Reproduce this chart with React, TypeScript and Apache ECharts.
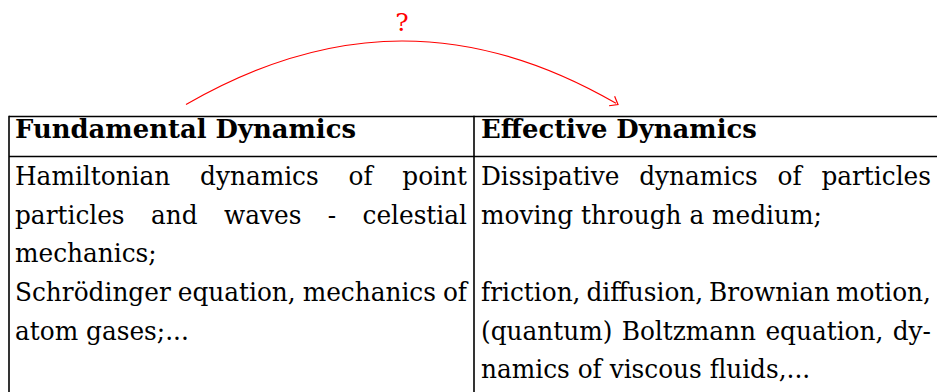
import React, { useEffect, useRef } from "react";
import * as echarts from "echarts";

// ---- content ----
const headers = ["Fundamental Dynamics", "Effective Dynamics"];
const leftLines = [
  "Hamiltonian dynamics of point",
  "particles and waves - celestial",
  "mechanics;",
  "Schrödinger equation, mechanics of",
  "atom gases;...",
];
const leftJustify = [true, true, false, true, false];
const rightLines = [
  "Dissipative dynamics of particles",
  "moving through a medium;",
  "",
  "friction, diffusion, Brownian motion,",
  "(quantum) Boltzmann equation, dy-",
  "namics of viscous fluids,...",
];
const rightJustify = [true, false, false, true, true, false];
const arrowLabel = "?";

// ---- layout ----
const W = 937;
const H = 392;
const FAMILY = "DejaVu Serif";
const FS = 26;
const TABLE_LEFT = 9;
const TABLE_MID = 474;
const TABLE_TOP = 116.5;
const HEADER_BOTTOM = 156.5;
const COL_X = [15, 481];
const COL_END = [467, 931];
const HEADER_BASE = 138;
const FIRST_BASE = 185;
const LINE_STEP = 38.6;
const BASE_RATIO = 0.346;

let ctx: CanvasRenderingContext2D | null = null;
function measure(text: string, bold = false): number {
  if (!ctx) ctx = document.createElement("canvas").getContext("2d");
  ctx!.font = `${bold ? "bold " : ""}${FS}px "${FAMILY}"`;
  return ctx!.measureText(text).width;
}

function textEl(text: string, x: number, baseline: number, sx: number, bold = false, color = "#000", size = FS, align = "left") {
  return {
    type: "text",
    x,
    y: baseline - BASE_RATIO * size,
    scaleX: sx,
    silent: true,
    style: {
      text,
      fontFamily: FAMILY,
      fontSize: size,
      fontWeight: bold ? "bold" : "normal",
      fill: color,
      align,
      textAlign: align,
      verticalAlign: "middle",
      textVerticalAlign: "middle",
    },
  };
}

function buildLine(text: string, x0: number, x1: number, baseline: number, justify: boolean, s: number) {
  if (!text) return [];
  if (!justify) return [textEl(text, x0, baseline, s)];
  const words = text.split(" ");
  const widths = words.map((w) => measure(w) * s);
  const sum = widths.reduce((a, b) => a + b, 0);
  const gap = (x1 - x0 - sum) / (words.length - 1);
  const out: any[] = [];
  let x = x0;
  words.forEach((w, i) => {
    out.push(textEl(w, x, baseline, s));
    x += widths[i] + gap;
  });
  return out;
}

export default function App() {
  const ref = useRef<HTMLDivElement>(null);
  useEffect(() => {
    if (!ref.current) return;
    const chart = echarts.init(ref.current, null, { renderer: "svg" });
    const s = 341 / measure("moving through a medium;");
    const sb = 341 / measure(headers[0], true);

    const elements: any[] = [];
    const stroke = { stroke: "#000", lineWidth: 1.6 };
    elements.push({ type: "line", silent: true, shape: { x1: TABLE_LEFT, y1: TABLE_TOP, x2: W, y2: TABLE_TOP }, style: stroke });
    elements.push({ type: "line", silent: true, shape: { x1: TABLE_LEFT, y1: HEADER_BOTTOM, x2: W, y2: HEADER_BOTTOM }, style: stroke });
    elements.push({ type: "line", silent: true, shape: { x1: TABLE_LEFT, y1: TABLE_TOP - 0.8, x2: TABLE_LEFT, y2: H }, style: stroke });
    elements.push({ type: "line", silent: true, shape: { x1: TABLE_MID, y1: TABLE_TOP - 0.8, x2: TABLE_MID, y2: H }, style: stroke });

    elements.push(textEl(headers[0], COL_X[0], HEADER_BASE, sb, true));
    elements.push(textEl(headers[1], COL_X[1], HEADER_BASE, sb, true));

    leftLines.forEach((t, i) => {
      elements.push(...buildLine(t, COL_X[0], COL_END[0], FIRST_BASE + i * LINE_STEP, leftJustify[i], s));
    });
    rightLines.forEach((t, i) => {
      elements.push(...buildLine(t, COL_X[1], COL_END[1], FIRST_BASE + i * LINE_STEP, rightJustify[i], s));
    });

    const p0 = [186, 104.5];
    const p1 = [618, 104.5];
    const chord = p1[0] - p0[0];
    const d = 0.3915 * chord;
    const ang = (30 * Math.PI) / 180;
    const c1 = [p0[0] + d * Math.cos(ang), p0[1] - d * Math.sin(ang)];
    const c2 = [p1[0] - d * Math.cos(ang), p1[1] - d * Math.sin(ang)];
    const red = "#ff0000";
    elements.push({
      type: "bezierCurve",
      silent: true,
      shape: { x1: p0[0], y1: p0[1], x2: p1[0] - 2, y2: p1[1] - 1.2, cpx1: c1[0], cpy1: c1[1], cpx2: c2[0], cpy2: c2[1] },
      style: { stroke: red, lineWidth: 1.1, fill: "none" },
    });
    const back = Math.atan2(-(p1[1] - c2[1]), -(p1[0] - c2[0]));
    const hl = 9;
    const spread = (38 * Math.PI) / 180;
    const b1 = [p1[0] + hl * Math.cos(back + spread), p1[1] + hl * Math.sin(back + spread)];
    const b2 = [p1[0] + hl * Math.cos(back - spread), p1[1] + hl * Math.sin(back - spread)];
    elements.push({
      type: "polyline",
      silent: true,
      shape: { points: [b1, p1, b2] },
      style: { stroke: red, lineWidth: 1.2, fill: "none", lineJoin: "miter" },
    });
    elements.push(textEl(arrowLabel, 402, 31, 1, false, red, 25, "center"));

    chart.setOption({
      animation: false,
      backgroundColor: "#ffffff",
      textStyle: { fontFamily: FAMILY },
      graphic: { elements },
    });
    return () => chart.dispose();
  }, []);
  return <div ref={ref} style={{ position: "fixed", left: 0, top: 0, width: W, height: H }} />;
}
